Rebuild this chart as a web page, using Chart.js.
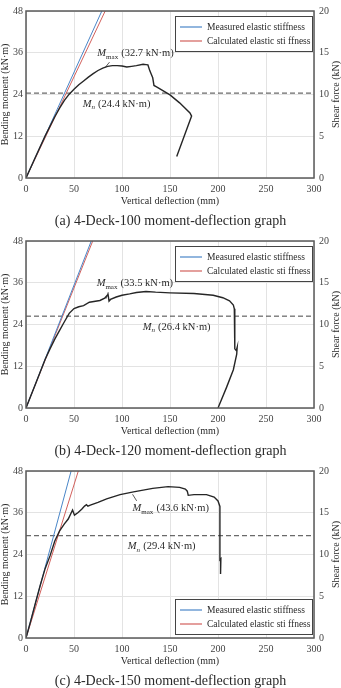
<!DOCTYPE html>
<html><head><meta charset="utf-8">
<script src="https://cdn.jsdelivr.net/npm/chart.js@4.4.0/dist/chart.umd.min.js"></script>
<style>
html,body{margin:0;padding:0;background:#fff;overflow:hidden;}
.panel{width:341px;height:230px;}
canvas{display:block;}
</style></head><body>
<div class="panel"><canvas id="ca" width="341" height="230"></canvas></div>
<div class="panel"><canvas id="cb" width="341" height="230"></canvas></div>
<div class="panel"><canvas id="cc" width="341" height="230"></canvas></div>
<script>
// ---- tick values ----
const deflectionTicks = [0, 50, 100, 150, 200, 250, 300];
const momentTicks = [0, 12, 24, 36, 48];
const shearTicks = [0, 5, 10, 15, 20];

// ---- labels ----
const legendLabels = ['Measured elastic stiffness', 'Calculated elastic sti ffness'];
const captions = ['(a) 4-Deck-100 moment-deflection graph', '(b) 4-Deck-120 moment-deflection graph', '(c) 4-Deck-150 moment-deflection graph'];
const mMaxValues = [32.7, 33.5, 43.6];
const mNValues = [24.4, 26.4, 29.4];

// ---- series: [deflection (mm), moment (kN·m)] ----
const measuredA = [[0, 0], [79, 48]];
const calculatedA = [[0, 0], [82.5, 48]];
const curveA = [[0,0],[10,6.1],[20,12.1],[30,17.6],[35,20.1],[40,22.3],[45,24.1],[50,25.5],[55,26.8],[60,27.9],[65,29.0],[70,30.0],[75,30.9],[80,31.6],[85,32.1],[90,32.3],[95,32.3],[100,32.2],[105,31.9],[110,32.1],[115,32.3],[122,32.7],[125,32.6],[127,32.5],[129,30.8],[132,28.8],[133.3,26.6],[136,26.2],[150,23.9],[160,21.6],[170.8,18.7],[172.5,17.8],[157,6.2]];

const measuredB = [[0, 0], [68, 48]];
const calculatedB = [[0, 0], [69.5, 48]];
const curveB = [[0,0],[10,7],[20,14],[25,17],[30,19.8],[35,22.3],[40,24.8],[45,27.2],[50,28.6],[55,29.1],[60,29.4],[66,30.4],[77,30.9],[82,31.6],[85.5,32.6],[86.5,30.7],[88,31.2],[94,31.9],[100,32.4],[108,32.8],[115,33.2],[125,33.5],[135,33.3],[150,33.1],[175,32.9],[195,32.4],[205,31.7],[212,30.8],[216,29.6],[217,28.5],[217.5,17],[219,16.5],[220,17.5],[219.5,15.5],[216,11],[209,6],[200,0]];

const measuredC = [[0, 0], [47, 48]];
const calculatedC = [[0, 0], [54.5, 48]];
const curveC = [[0,0],[5,5],[10,10.2],[15,15.3],[20,20],[25,23.6],[30,27.9],[35,30.8],[40,32.8],[44,34.2],[48.5,36.8],[50.5,35.3],[54,36],[58,37],[61,37.9],[63,38.3],[64.5,37.9],[67,38.2],[75,39],[84,40],[98,41.2],[112,42.0],[132,43],[148,43.5],[160,43.3],[166,42.8],[168,42.2],[169,41],[175,41.2],[188,41.2],[196,40.5],[200,39.4],[202,37.8],[202,22.5],[203,22.8],[203,21.5],[202.3,18.4]];

const SERIF = '"Liberation Serif", "Times New Roman", serif';
const TXT = '#2a2a2a';
const shearTitle = 'Shear force (kN)';

function pts(arr) { return arr.map(p => ({x: p[0], y: p[1]})); }

function drawM(ctx, px, py, sub, val) {
  ctx.save();
  ctx.fillStyle = TXT; ctx.textBaseline = 'middle'; ctx.textAlign = 'left';
  ctx.font = 'italic 10.5px ' + SERIF;
  ctx.fillText('M', px, py);
  let w = ctx.measureText('M').width;
  ctx.font = (sub === 'n' ? 'italic ' : '') + '7px ' + SERIF;
  ctx.fillText(sub, px + w, py + 3.5);
  w += ctx.measureText(sub).width;
  ctx.font = '10.5px ' + SERIF;
  ctx.fillText(' (' + val.toFixed(1) + ' kN\u00B7m)', px + w + 0.5, py);
  ctx.restore();
}

function makeChart(id, cfg) {
  const framePlugin = {
    id: 'frame',
    afterDraw(chart) {
      const {ctx, chartArea: a, scales: {x, y}} = chart;
      // annotations
      drawM(ctx, x.getPixelForValue(cfg.maxText[0]), y.getPixelForValue(cfg.maxText[1]), 'max', cfg.mmax);
      drawM(ctx, x.getPixelForValue(cfg.nText[0]), y.getPixelForValue(cfg.nText[1]), 'n', cfg.mn);
      ctx.save();
      ctx.strokeStyle = '#333'; ctx.lineWidth = 0.8;
      ctx.beginPath();
      ctx.moveTo(x.getPixelForValue(cfg.leader[0][0]), y.getPixelForValue(cfg.leader[0][1]));
      ctx.lineTo(x.getPixelForValue(cfg.leader[1][0]), y.getPixelForValue(cfg.leader[1][1]));
      ctx.stroke();
      // frame
      ctx.strokeStyle = '#5a5a5a'; ctx.lineWidth = 1.5;
      ctx.strokeRect(a.left, a.top, a.right - a.left, a.bottom - a.top);
      // right axis title (reads bottom-to-top)
      ctx.save();
      ctx.translate(chart.width - 5, (a.top + a.bottom) / 2);
      ctx.rotate(-Math.PI / 2);
      ctx.font = '10px ' + SERIF; ctx.fillStyle = TXT;
      ctx.textAlign = 'center'; ctx.textBaseline = 'middle';
      ctx.fillText(shearTitle, 0, 0);
      ctx.restore();
      // legend
      const bw = 137, bh = 35;
      const bx = a.right - 2 - bw;
      const by = cfg.legendBottom ? a.bottom - 4 - bh : a.top + 5;
      ctx.fillStyle = '#fff';
      ctx.fillRect(bx, by, bw, bh);
      ctx.strokeStyle = '#444'; ctx.lineWidth = 1;
      ctx.strokeRect(bx + 0.5, by + 0.5, bw, bh);
      ctx.font = '9.5px ' + SERIF; ctx.textBaseline = 'middle'; ctx.textAlign = 'left';
      const legendSets = chart.data.datasets.filter(d => d.inLegend);
      legendSets.forEach((d, i) => {
        const ly = by + 11 + i * 14;
        ctx.strokeStyle = d.borderColor; ctx.lineWidth = 1.2;
        ctx.beginPath(); ctx.moveTo(bx + 5, ly); ctx.lineTo(bx + 27, ly); ctx.stroke();
        ctx.fillStyle = TXT;
        ctx.fillText(d.label, bx + 32, ly);
      });
      ctx.restore();
    }
  };
  const tickFont = {family: SERIF, size: 10};
  return new Chart(document.getElementById(id), {
    type: 'line',
    data: {
      datasets: [
        {label: 'Moment-deflection', data: pts(cfg.curve), borderColor: '#262626', borderWidth: 1.4, pointRadius: 0, tension: 0},
        {label: legendLabels[0], inLegend: true, data: pts(cfg.measured), borderColor: '#4a86c8', borderWidth: 1, pointRadius: 0},
        {label: legendLabels[1], inLegend: true, data: pts(cfg.calculated), borderColor: '#d2605c', borderWidth: 1, pointRadius: 0},
        {label: 'Mn', data: [{x: 0, y: cfg.mn}, {x: 300, y: cfg.mn}], borderColor: '#444', borderWidth: 1, borderDash: [5, 3], pointRadius: 0}
      ]
    },
    options: {
      responsive: false, animation: false,
      layout: {padding: {top: 10, left: 0, right: 0, bottom: 0}},
      plugins: {
        legend: {display: false}, tooltip: {enabled: false},
        title: {display: true, position: 'bottom', text: cfg.caption, color: TXT,
                font: {family: SERIF, size: 14, weight: 'normal'}, padding: {top: 0, bottom: 0}}
      },
      scales: {
        x: {
          type: 'linear', min: 0, max: 300,
          afterBuildTicks(s) { s.ticks = deflectionTicks.map(v => ({value: v})); },
          afterFit(s) { s.height = 35.2; },
          grid: {color: '#e3e3e3', drawTicks: false}, border: {display: false},
          ticks: {font: tickFont, color: '#444', padding: 5, maxRotation: 0, autoSkip: false},
          title: {display: true, text: 'Vertical deflection (mm)', color: TXT, font: {family: SERIF, size: 10}, padding: {top: 0, bottom: 6}}
        },
        y: {
          type: 'linear', position: 'left', min: 0, max: 48,
          afterBuildTicks(s) { s.ticks = momentTicks.map(v => ({value: v})); },
          afterFit(s) { s.width = 26; },
          grid: {color: '#e3e3e3', drawTicks: false}, border: {display: false},
          ticks: {font: tickFont, color: '#444', padding: 3},
          title: {display: true, text: 'Bending moment (kN\u00B7m)', color: TXT, font: {family: SERIF, size: 10, lineHeight: 1}, padding: 0}
        },
        y2: {
          type: 'linear', position: 'right', min: 0, max: 20,
          afterBuildTicks(s) { s.ticks = shearTicks.map(v => ({value: v})); },
          afterFit(s) { s.width = 27; },
          grid: {display: false, drawTicks: false}, border: {display: false},
          ticks: {font: tickFont, color: '#444', padding: 5},
          title: {display: false}
        }
      }
    },
    plugins: [framePlugin]
  });
}

makeChart('ca', {curve: curveA, measured: measuredA, calculated: calculatedA, caption: captions[0],
  mmax: mMaxValues[0], mn: mNValues[0], maxText: [74.3, 35.8], nText: [59, 21.3],
  leader: [[87, 33.3], [82.5, 31.8]], legendBottom: false});
makeChart('cb', {curve: curveB, measured: measuredB, calculated: calculatedB, caption: captions[1],
  mmax: mMaxValues[1], mn: mNValues[1], maxText: [73.6, 35.8], nText: [121.6, 23.3],
  leader: [[85.7, 33.3], [83.3, 31.4]], legendBottom: false});
makeChart('cc', {curve: curveC, measured: measuredC, calculated: calculatedC, caption: captions[2],
  mmax: mMaxValues[2], mn: mNValues[2], maxText: [111, 37.2], nText: [106, 26.3],
  leader: [[111, 41.3], [115.3, 39.4]], legendBottom: true});
</script>
</body></html>
